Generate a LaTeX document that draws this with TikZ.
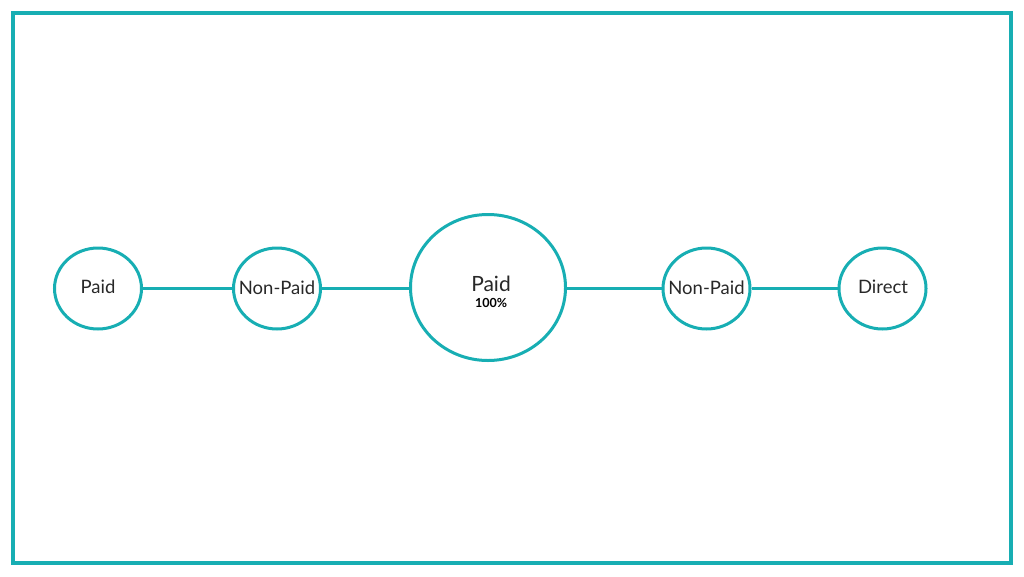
\documentclass[tikz,border=0pt]{standalone}
\usepackage{fontspec}
\setmainfont{Lato}
\usetikzlibrary{shapes.geometric}
\definecolor{teal1}{RGB}{23,174,179}
\definecolor{txt}{RGB}{40,40,40}
\tikzset{
  frame/.style={draw=teal1, line width=4pt},
  bub/.style={draw=teal1, line width=3pt, ellipse, minimum width=87pt, minimum height=81pt, inner sep=0pt, fill=white},
  bigbub/.style={bub, minimum width=155pt, minimum height=146pt},
  lbl/.style={text=txt, font=\fontsize{18.5}{22}\selectfont},
  link/.style={draw=teal1, line width=2.8pt},
}
\begin{document}
\begin{tikzpicture}[x=1pt,y=-1pt]
\useasboundingbox (0,0) rectangle (1024,576);
\draw[frame] (13,13) rectangle (1011,563);
\node[bub] (p1) at (98,288.5) {};
\node[bub] (n1) at (277,288.5) {};
\node[bigbub] (p2) at (488,287.5) {};
\node[bub] (n2) at (706.5,288.5) {};
\node[bub] (d1) at (882.5,288.5) {};
\draw[link] (p1.east) -- (p1.east -| n1.west);
\draw[link] (n1.east) -- (n1.east -| p2.west);
\draw[link] (p2.east |- n2.west) -- (n2.west);
\draw[link] (n2.east) -- (d1.west);
\node[lbl] (t1) at (98,287) {Paid};
\node[lbl] (t2) at (277,288) {Non-Paid};
\node[lbl, font=\fontsize{21}{24}\selectfont] (t3) at (491,284) {Paid};
\node[text=black, font=\bfseries\fontsize{12.5}{14}\selectfont] (t4) at (491,302.5) {100\%};
\node[lbl] (t5) at (706.5,288) {Non-Paid};
\node[lbl] (t6) at (883,287) {Direct};
\end{tikzpicture}
\end{document}
